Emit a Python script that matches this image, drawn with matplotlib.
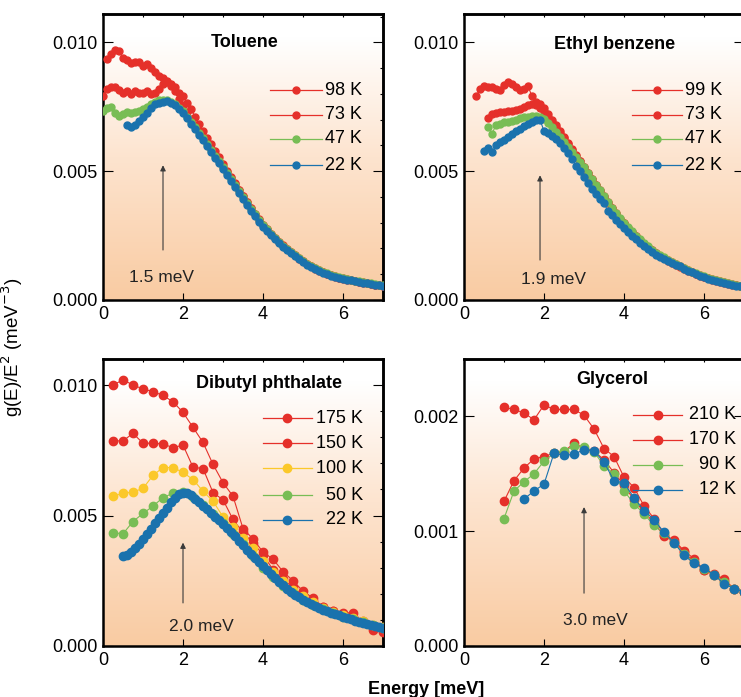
import numpy as np
import matplotlib.pyplot as plt
from matplotlib.colors import LinearSegmentedColormap
from matplotlib.ticker import MultipleLocator, FormatStrFormatter

plt.rcParams['font.family'] = ['Liberation Sans', 'DejaVu Sans']

######################################################################
## DATA  (g(E)/E^2 in units of 1e-3 meV^-3, E in meV)

RED = '#e5302a'
GREEN = '#78bd55'
BLUE = '#1a72ad'
YELLOW = '#fbc82a'

## Toluene, 0.1 meV bins
tol_E = np.round(np.arange(0.0, 7.001, 0.1), 2)
tol_98K = [9.35, 9.55, 9.70, 9.65, 9.40, 9.30, 9.20, 9.22, 9.25,
           9.10, 9.15, 9.00, 8.85, 8.70, 8.60, 8.50, 8.40, 8.25, 8.05,
           7.90, 7.65, 7.40, 7.12, 6.85, 6.55, 6.30, 6.05, 5.80, 5.55,
           5.28, 5.02, 4.77, 4.53, 4.28, 4.04, 3.80, 3.57, 3.35, 3.13,
           2.93, 2.75, 2.58, 2.42, 2.26, 2.11, 1.98, 1.86, 1.73, 1.61,
           1.50, 1.40, 1.31, 1.22, 1.14, 1.07, 1.01, 0.96, 0.91, 0.86,
           0.83, 0.79, 0.76, 0.73, 0.70, 0.67, 0.64, 0.61, 0.59, 0.57, 0.55]
tol_73K = [7.90, 8.20, 8.25, 8.25, 8.15, 8.05, 8.10, 8.00, 8.10, 8.05,
           8.05, 8.10, 8.00, 8.05, 8.20, 8.40, 8.45, 8.30, 8.10, 7.80,
           7.55, 7.30, 7.02, 6.78, 6.55, 6.32, 6.10, 5.87, 5.64, 5.41,
           5.18, 4.95, 4.72, 4.50, 4.25, 4.02, 3.79, 3.56, 3.34, 3.12,
           2.93, 2.75, 2.58, 2.42, 2.26, 2.12, 1.99, 1.88, 1.75, 1.62,
           1.51, 1.41, 1.32, 1.23, 1.15, 1.08, 1.02, 0.97, 0.92, 0.87,
           0.84, 0.80, 0.77, 0.74, 0.71, 0.68, 0.65, 0.62, 0.60, 0.58, 0.56]
tol_47K = [7.35, 7.45, 7.50, 7.25, 7.15, 7.22, 7.30, 7.25, 7.30, 7.35,
           7.40, 7.50, 7.62, 7.70, 7.76, 7.78, 7.76, 7.70, 7.60, 7.46,
           7.32, 7.12, 6.92, 6.72, 6.50, 6.27, 6.05, 5.82, 5.60, 5.38,
           5.15, 4.92, 4.70, 4.47, 4.22, 3.99, 3.77, 3.54, 3.32, 3.10,
           2.91, 2.74, 2.57, 2.41, 2.25, 2.11, 1.98, 1.87, 1.74, 1.62,
           1.51, 1.41, 1.31, 1.23, 1.15, 1.09, 1.03, 0.98, 0.93, 0.89,
           0.85, 0.82, 0.78, 0.75, 0.72, 0.69, 0.66, 0.64, 0.61, 0.59, 0.57]
tol_22K = [6.80, 6.72, 6.80, 6.95, 7.10, 7.25, 7.45, 7.60, 7.66, 7.70,
           7.72, 7.65, 7.55, 7.40, 7.25,
           7.05, 6.85, 6.65, 6.42, 6.20, 5.97, 5.75, 5.52, 5.30, 5.08,
           4.85, 4.62, 4.40, 4.15, 3.92, 3.70, 3.47, 3.25, 3.03, 2.85,
           2.68, 2.52, 2.36, 2.20, 2.06, 1.94, 1.83, 1.70, 1.58, 1.47,
           1.37, 1.28, 1.20, 1.12, 1.06, 1.00, 0.95, 0.90, 0.86, 0.83,
           0.79, 0.76, 0.73, 0.70, 0.67, 0.64, 0.62, 0.60, 0.57, 0.55]

## Ethyl benzene, 0.1 meV bins
eb_E = np.round(np.arange(0.0, 7.001, 0.1), 2)
eb_99K = [7.90, 8.20, 8.30, 8.25, 8.25, 8.20, 8.15,
          8.35, 8.45, 8.40, 8.25, 8.15, 8.20, 8.30, 7.90, 7.70, 7.60,
          7.45, 7.22, 7.00, 6.78, 6.55, 6.32, 6.08, 5.85, 5.62, 5.40,
          5.17, 4.94, 4.71, 4.48, 4.25, 4.02, 3.79, 3.57, 3.36, 3.16,
          2.98, 2.80, 2.63, 2.47, 2.32, 2.18, 2.05, 1.93, 1.82, 1.71,
          1.62, 1.53, 1.45, 1.37, 1.29, 1.22, 1.14, 1.07, 1.01, 0.95,
          0.89, 0.84, 0.79, 0.75, 0.71, 0.67, 0.63, 0.60, 0.57, 0.54, 0.51]
eb_73K = [7.05, 7.20, 7.25, 7.28, 7.30, 7.35, 7.32, 7.36, 7.40, 7.48,
          7.55, 7.60, 7.55, 7.45, 7.35, 7.12, 6.92, 6.72, 6.50, 6.28,
          6.05, 5.83, 5.60, 5.38, 5.15, 4.92, 4.70, 4.47, 4.24, 4.00,
          3.78, 3.56, 3.35, 3.15, 2.97, 2.80, 2.63, 2.47, 2.32, 2.18,
          2.05, 1.93, 1.82, 1.72, 1.63, 1.54, 1.46, 1.38, 1.30, 1.23,
          1.15, 1.08, 1.02, 0.96, 0.90, 0.85, 0.80, 0.76, 0.72, 0.68,
          0.64, 0.61, 0.58, 0.55, 0.52]
eb_47K = [6.70, 6.45, 6.80, 6.85, 6.90, 6.92, 6.95, 7.00, 7.08, 7.10,
          7.12, 7.15, 7.15, 7.10, 7.02, 6.88, 6.70, 6.52, 6.33, 6.15,
          5.95, 5.75, 5.55, 5.35, 5.15, 4.93, 4.70, 4.48, 4.25, 4.02,
          3.80, 3.58, 3.38, 3.18, 3.00, 2.83, 2.66, 2.50, 2.35, 2.21,
          2.08, 1.95, 1.84, 1.74, 1.65, 1.56, 1.48, 1.40, 1.32, 1.25,
          1.17, 1.10, 1.04, 0.98, 0.92, 0.86, 0.81, 0.77, 0.73, 0.69,
          0.65, 0.62, 0.59, 0.56, 0.53]
eb_22K = [5.80, 5.88, 5.75, 6.00, 6.12, 6.22, 6.32, 6.43, 6.55, 6.65,
          6.75, 6.85, 6.92, 6.97, 7.00, 6.55, 6.48, 6.38, 6.24, 6.08,
          5.90, 5.70, 5.47, 5.22, 5.00, 4.78, 4.55, 4.32, 4.10, 3.92,
          3.75, 3.45, 3.30, 3.12, 2.96, 2.80, 2.65, 2.50, 2.36, 2.22,
          2.10, 1.98, 1.86, 1.76, 1.66, 1.58, 1.50, 1.44, 1.37, 1.30,
          1.22, 1.13, 1.07, 1.00, 0.94, 0.88, 0.83, 0.78, 0.74, 0.70,
          0.66, 0.62, 0.59, 0.56, 0.53, 0.50]

## Dibutyl phthalate, 0.25 meV bins (22 K measured on 0.1 meV bins)
dbp_E = np.round(np.arange(0.25, 7.001, 0.25), 2)
dbp_175K = [10.00, 10.20, 10.00, 9.85, 9.75, 9.60, 9.36, 8.95, 8.38, 7.80,
            6.96, 6.26, 5.74, 4.50, 4.10, 3.60, 3.33, 2.85, 2.50, 2.10,
            1.84, 1.50, 1.35, 1.27, 1.27, 0.92, 0.60, 0.55]
dbp_150K = [7.86, 7.86, 8.15, 7.77, 7.77, 7.74, 7.60, 7.70, 6.85, 6.80,
            5.88, 5.60, 4.85, 4.35, 3.95, 3.50, 2.92, 2.55, 2.25, 1.95,
            1.72, 1.48, 1.33, 1.20, 1.12, 0.95, 0.78, 0.65]
dbp_100K = [5.74, 5.85, 5.90, 6.04, 6.54, 6.84, 6.84, 6.65, 6.38, 5.93,
            5.55, 4.95, 4.55, 4.15, 3.75, 3.25, 2.85, 2.48, 2.15, 1.90,
            1.68, 1.47, 1.32, 1.18, 1.06, 0.95, 0.82, 0.72]
dbp_50K = [4.34, 4.30, 4.77, 5.08, 5.36, 5.69, 5.85, 5.90, 5.70, 5.40,
           5.05, 4.70, 4.30, 3.90, 3.45, 3.00, 2.65, 2.30, 2.02, 1.75,
           1.57, 1.40, 1.27, 1.12, 1.02, 0.90, 0.80, 0.70]
dbp_fine_E = np.round(np.arange(0.5, 7.001, 0.1), 2)
dbp_22K = [3.43, 3.50, 3.60, 3.75, 3.92, 4.10, 4.30, 4.50, 4.70, 4.90,
           5.10, 5.30, 5.50, 5.68, 5.82, 5.88, 5.86, 5.78, 5.65, 5.52,
           5.38, 5.24, 5.10, 4.96, 4.82, 4.68, 4.52, 4.36, 4.20, 4.03,
           3.86, 3.69, 3.52, 3.36, 3.20, 3.05, 2.90, 2.75, 2.60, 2.46,
           2.32, 2.20, 2.08, 1.97, 1.87, 1.78, 1.70, 1.62, 1.54, 1.46,
           1.39, 1.33, 1.27, 1.22, 1.17, 1.12, 1.07, 1.02, 0.97, 0.93,
           0.89, 0.85, 0.81, 0.77, 0.73, 0.69]

## Glycerol, 0.25 meV bins
gly_E = np.round(np.arange(1.0, 7.001, 0.25), 2)
gly_210K = [2.08, 2.06, 2.03, 1.97, 2.10, 2.06, 2.06, 2.06, 2.01, 1.89,
            1.72, 1.65, 1.47, 1.38, 1.22, 1.11, 0.97, 0.92, 0.83, 0.76,
            0.66, 0.63, 0.58, 0.50, 0.47]
gly_170K = [1.26, 1.44, 1.55, 1.63, 1.65, 1.68, 1.69, 1.77, 1.72, 1.70,
            1.62, 1.51, 1.40, 1.27, 1.17, 1.07, 0.96, 0.91, 0.82, 0.73,
            0.66, 0.62, 0.57, 0.50, 0.47]
gly_90K = [1.11, 1.35, 1.43, 1.50, 1.61, 1.68, 1.70, 1.74, 1.73, 1.69,
           1.57, 1.50, 1.35, 1.24, 1.15, 1.05, 0.98, 0.90, 0.80, 0.73,
           0.67, 0.62, 0.56, 0.50, 0.47]
gly_12K_E = np.round(np.arange(1.5, 7.001, 0.25), 2)
gly_12K = [1.28, 1.35, 1.41, 1.68, 1.66, 1.67, 1.71, 1.70, 1.60, 1.44,
           1.42, 1.29, 1.18, 1.10, 0.99, 0.90, 0.79, 0.72, 0.68, 0.62,
           0.54, 0.50, 0.47]

######################################################################
## FUNCTIONS

peach = LinearSegmentedColormap.from_list(
    'peach', [(0.0, '#f9cba2'), (0.5, '#fde4cf'), (0.92, '#ffffff'), (1.0, '#ffffff')])


def styleAxes(ax, ymax, major, minor):
    ax.set_xlim(0, 7)
    ax.set_ylim(0, ymax)
    grad = np.linspace(0, 1, 256).reshape(-1, 1)
    ax.imshow(grad, cmap=peach, origin='lower', aspect='auto',
              extent=[0, 7, 0, ymax], zorder=0)
    for s in ax.spines.values():
        s.set_linewidth(1.8)
    ax.xaxis.set_major_locator(MultipleLocator(2))
    ax.yaxis.set_major_locator(MultipleLocator(major))
    ax.yaxis.set_major_formatter(FormatStrFormatter('%.3f'))
    ax.tick_params(axis='x', direction='in', length=5, width=0.8,
                   labelsize=13, pad=4)
    ax.tick_params(axis='y', direction='in', length=7, width=0.8,
                   labelsize=13, pad=4)

    top = ax.secondary_xaxis('top')
    top.set_xticks(range(1, 7))
    top.tick_params(direction='in', length=2.5, width=0.8, labeltop=False)
    top.spines['top'].set_linewidth(1.8)

    right = ax.secondary_yaxis('right')
    right.yaxis.set_major_locator(MultipleLocator(major))
    right.yaxis.set_minor_locator(MultipleLocator(minor))
    right.tick_params(which='major', direction='in', length=7, width=0.8,
                      labelright=False)
    right.tick_params(which='minor', direction='in', length=2.5, width=0.8)
    right.spines['right'].set_linewidth(1.8)


def plotCurve(ax, E, vals, color, ms):
    ax.plot(E, np.array(vals) * 1e-3, '-o', color=color, lw=0.8,
            ms=ms, mec=color, zorder=3)


def drawKey(ax, entries, x0, x1, xtext, ys, ms):
    xm = 0.5 * (x0 + x1)
    for (label, color), y in zip(entries, ys):
        ax.plot([x0, x1], [y, y], color=color, lw=0.9,
                transform=ax.transAxes, zorder=5)
        ax.plot([xm], [y], 'o', color=color, ms=ms,
                transform=ax.transAxes, zorder=5)
        ax.text(xtext, y, label, ha='right', va='center', fontsize=13,
                transform=ax.transAxes, zorder=5)


def drawArrow(ax, E, v0, v1, label, tx, ty):
    ax.annotate('', xy=(E, v1 * 1e-3), xytext=(E, v0 * 1e-3),
                arrowprops=dict(arrowstyle='-|>', color='#3a3a3a', lw=0.8,
                                mutation_scale=8, shrinkA=0, shrinkB=0),
                zorder=4)
    ax.text(tx, ty * 1e-3, label, ha='center', va='center', fontsize=12.5,
            color='#222222', zorder=4)

######################################################################
## MAIN PROGRAM STARTS HERE

fig = plt.figure(figsize=(7.41, 6.97), dpi=100)

axTol = fig.add_axes([0.139, 0.5696, 0.3779, 0.4103])
axEb = fig.add_axes([0.6262, 0.5696, 0.3779, 0.4103])
axDbp = fig.add_axes([0.139, 0.0732, 0.3779, 0.4118])
axGly = fig.add_axes([0.6262, 0.0732, 0.3779, 0.4118])

## Toluene
styleAxes(axTol, 0.0111, 0.005, 0.001)
plotCurve(axTol, tol_E[1:], tol_98K, RED, 5)
plotCurve(axTol, tol_E, tol_73K, RED, 5)
plotCurve(axTol, tol_E, tol_47K, GREEN, 5)
plotCurve(axTol, tol_E[6:], tol_22K, BLUE, 5)
axTol.text(0.507, 0.899, 'Toluene', transform=axTol.transAxes,
           ha='center', va='center', fontsize=13, fontweight='bold')
drawKey(axTol, [('98 K', RED), ('73 K', RED), ('47 K', GREEN), ('22 K', BLUE)],
        0.596, 0.782, 0.925, [0.734, 0.647, 0.563, 0.472], 5)
drawArrow(axTol, 1.5, 1.94, 5.23, '1.5 meV', 1.45, 0.89)

## Ethyl benzene
styleAxes(axEb, 0.0111, 0.005, 0.001)
plotCurve(axEb, eb_E[3:], eb_99K, RED, 5)
plotCurve(axEb, eb_E[6:], eb_73K, RED, 5)
plotCurve(axEb, eb_E[6:], eb_47K, GREEN, 5)
plotCurve(axEb, eb_E[5:], eb_22K, BLUE, 5)
axEb.text(0.536, 0.895, 'Ethyl benzene', transform=axEb.transAxes,
          ha='center', va='center', fontsize=13, fontweight='bold')
drawKey(axEb, [('99 K', RED), ('73 K', RED), ('47 K', GREEN), ('22 K', BLUE)],
        0.600, 0.779, 0.921, [0.734, 0.647, 0.563, 0.472], 5)
drawArrow(axEb, 1.9, 1.55, 4.84, '1.9 meV', 2.23, 0.78)

## Dibutyl phthalate
styleAxes(axDbp, 0.0110, 0.005, 0.001)
plotCurve(axDbp, dbp_E, dbp_175K, RED, 6)
plotCurve(axDbp, dbp_E, dbp_150K, RED, 6)
plotCurve(axDbp, dbp_E, dbp_100K, YELLOW, 6)
plotCurve(axDbp, dbp_E, dbp_50K, GREEN, 6)
plotCurve(axDbp, dbp_fine_E, dbp_22K, BLUE, 6)
axDbp.text(0.593, 0.916, 'Dibutyl phthalate', transform=axDbp.transAxes,
           ha='center', va='center', fontsize=13, fontweight='bold')
drawKey(axDbp, [('175 K', RED), ('150 K', RED), ('100 K', YELLOW),
                ('50 K', GREEN), ('22 K', BLUE)],
        0.571, 0.746, 0.929, [0.794, 0.706, 0.620, 0.526, 0.439], 6)
drawArrow(axDbp, 2.0, 1.65, 3.96, '2.0 meV', 2.45, 0.73)

## Glycerol
styleAxes(axGly, 0.0025, 0.001, 0.0002)
plotCurve(axGly, gly_E, gly_210K, RED, 6)
plotCurve(axGly, gly_E, gly_170K, RED, 6)
plotCurve(axGly, gly_E, gly_90K, GREEN, 6)
plotCurve(axGly, gly_12K_E, gly_12K, BLUE, 6)
axGly.text(0.529, 0.930, 'Glycerol', transform=axGly.transAxes,
           ha='center', va='center', fontsize=13, fontweight='bold')
drawKey(axGly, [('210 K', RED), ('170 K', RED), ('90 K', GREEN), ('12 K', BLUE)],
        0.604, 0.779, 0.972, [0.805, 0.718, 0.631, 0.544], 6)
drawArrow(axGly, 3.0, 0.46, 1.21, '3.0 meV', 3.28, 0.226)

fig.text(0.017, 0.502, 'g(E)/E$^2$ (meV$^{-3}$)', rotation=90,
         ha='center', va='center', fontsize=13.5)
fig.text(0.575, 0.004, 'Energy [meV]', ha='center', va='baseline',
         fontsize=13, fontweight='bold')

fig.savefig('out.png', dpi=100, facecolor='white')
